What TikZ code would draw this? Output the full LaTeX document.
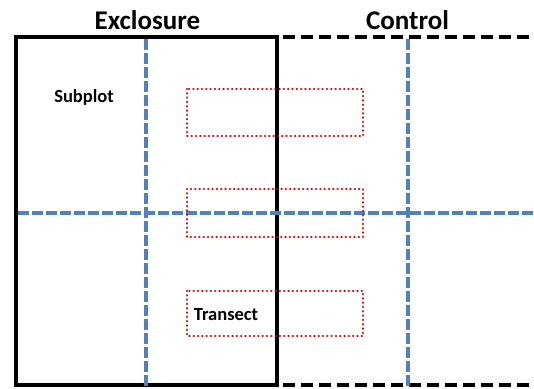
\documentclass[tikz,border=0pt]{standalone}
\usepackage{fontspec}
\setmainfont{Carlito}
\begin{document}
\begin{tikzpicture}[x=1pt,y=-1pt,
  fence/.style={line width=4pt,black},
  openfence/.style={line width=4pt,black,dash pattern=on 12pt off 6pt},
  gridline/.style={line width=3.2pt,color=plotblue,dash pattern=on 10.5pt off 3.5pt},
  transectbox/.style={line width=2.8pt,color=plotred,line cap=round,dash pattern=on 0.01pt off 4.3pt},
  heading/.style={font=\bfseries\fontsize{27}{30}\selectfont,anchor=base},
  label/.style={font=\bfseries\fontsize{18.5}{22}\selectfont,anchor=base}]
\definecolor{plotblue}{RGB}{79,129,189}
\definecolor{plotred}{RGB}{200,0,0}
\useasboundingbox (0,0) rectangle (534,388);
% exclosure (fenced) and control (open) areas
\draw[fence] (16,37) rectangle (277,385);
\draw[openfence] (283,37) -- (534,37);
\draw[openfence] (283,385) -- (534,385);
% subplot grid
\draw[gridline] (146,39) -- (146,388);
\draw[gridline] (408,39) -- (408,388);
\draw[gridline] (18,213) -- (534,213);
% transects
\draw[transectbox] (187,89) rectangle (363,136);
\draw[transectbox] (187,189) rectangle (363,237);
\draw[transectbox] (187,291) rectangle (363,336);
% labels
\node[heading] (exclosure) at (147.5,29) {Exclosure};
\node[heading] (control) at (407.5,29) {Control};
\node[label] (subplot) at (84,102) {Subplot};
\node[label] (transect) at (226,320) {Transect};
\end{tikzpicture}
\end{document}
